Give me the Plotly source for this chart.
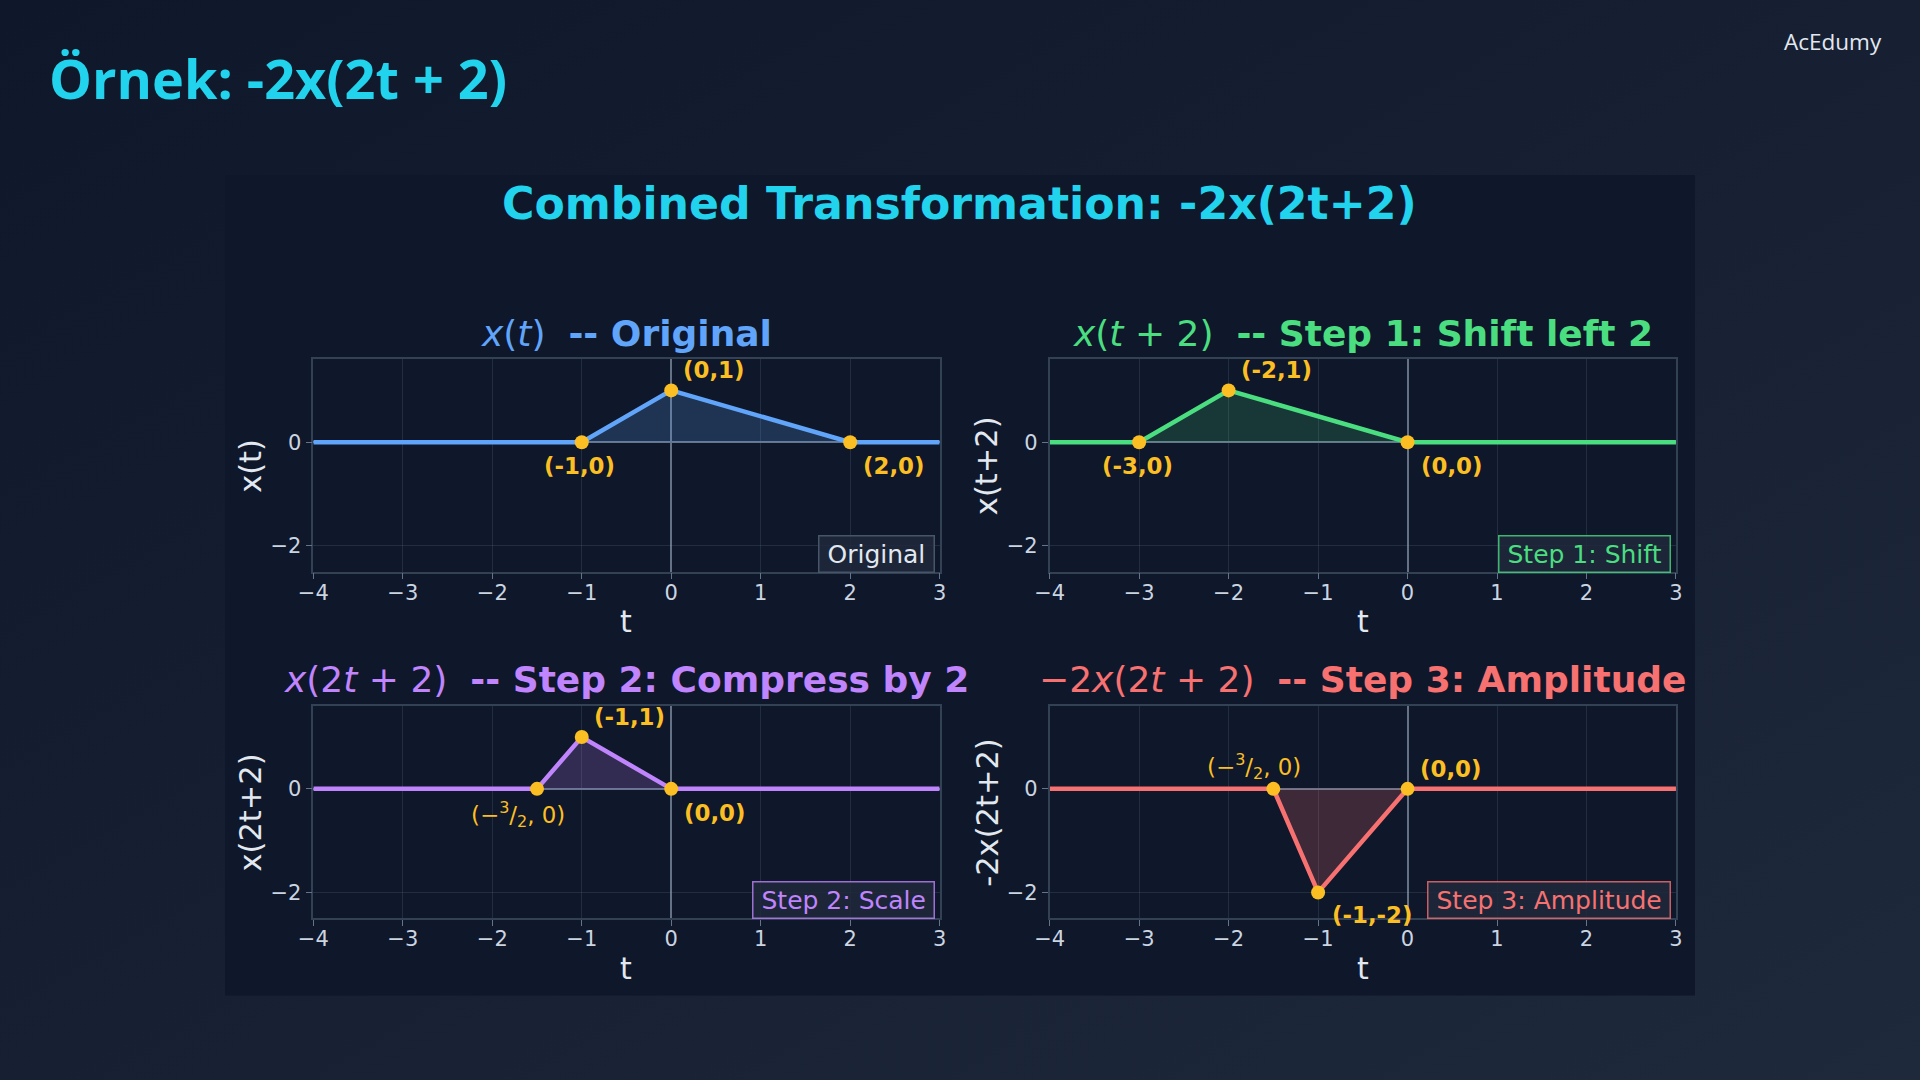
import base64
import plotly.graph_objects as go

# ---------------- data ----------------
T_RANGE = [-4, 3]
Y_RANGE = [-2.5, 1.6]
x_tick_vals = [-4, -3, -2, -1, 0, 1, 2, 3]
y_tick_vals = [-2, 0]

# x(t)
t_orig = [-4, -1, 0, 2, 3]
v_orig = [0, 0, 1, 0, 0]
key_t_orig = [-1, 0, 2]
key_v_orig = [0, 1, 0]
key_lbl_orig = ["(-1,0)", "(0,1)", "(2,0)"]

# x(t+2)
t_shift = [-4, -3, -2, 0, 3]
v_shift = [0, 0, 1, 0, 0]
key_t_shift = [-3, -2, 0]
key_v_shift = [0, 1, 0]
key_lbl_shift = ["(-3,0)", "(-2,1)", "(0,0)"]

# x(2t+2)
t_scale = [-4, -1.5, -1, 0, 3]
v_scale = [0, 0, 1, 0, 0]
key_t_scale = [-1.5, -1, 0]
key_v_scale = [0, 1, 0]
key_lbl_scale = ["(−<sup>3</sup>/<sub>2</sub>, 0)", "(-1,1)", "(0,0)"]

# -2x(2t+2)
t_amp = [-4, -1.5, -1, 0, 3]
v_amp = [0, 0, -2, 0, 0]
key_t_amp = [-1.5, -1, 0]
key_v_amp = [0, -2, 0]
key_lbl_amp = ["(−<sup>3</sup>/<sub>2</sub>, 0)", "(-1,-2)", "(0,0)"]

titles_math = ["<i>x</i>(<i>t</i>)", "<i>x</i>(<i>t</i> + 2)",
               "<i>x</i>(2<i>t</i> + 2)", "−2<i>x</i>(2<i>t</i> + 2)"]
titles_text = ["-- Original", "-- Step 1: Shift left 2",
               "-- Step 2: Compress by 2", "-- Step 3: Amplitude"]
y_labels = ["x(t)", "x(t+2)", "x(2t+2)", "-2x(2t+2)"]
legend_labels = ["Original", "Step 1: Shift", "Step 2: Scale", "Step 3: Amplitude"]

# ---------------- styles ----------------
FONT = "DejaVu Sans"
colors = ["#60a5fa", "#4ade80", "#c084fc", "#f87171"]
fills = ["rgba(96,165,250,0.20)", "rgba(74,222,128,0.17)",
         "rgba(192,132,252,0.20)", "rgba(248,113,113,0.20)"]
legend_text_colors = ["#e2e8f0", "#4ade80", "#c084fc", "#f87171"]
legend_border = ["#475569", "rgba(74,222,128,0.8)", "rgba(192,132,252,0.8)", "rgba(248,113,113,0.8)"]
MARKER = "#fbbf24"

# label placement kinds (xanchor, xshift, yshift, bold)
PLACE = {
    "ur": ("left", 10, 20, True),
    "b": ("center", -2, -24, True),
    "br": ("left", 11, -24, True),
    "fb": ("center", -19, -26, False),
    "fu": ("center", -19, 22, False),
    "dr": ("left", 12, -23, True),
}
placements = [["b", "ur", "br"], ["b", "ur", "br"], ["fb", "ur", "br"], ["fu", "dr", "ur"]]

x_domains = [[0.1632, 0.4894], [0.5467, 0.8729], [0.1632, 0.4894], [0.5467, 0.8729]]
y_domains = [[0.4707, 0.6673], [0.4707, 0.6673], [0.1497, 0.3463], [0.1497, 0.3463]]

panels = [
    (t_orig, v_orig, key_t_orig, key_v_orig, key_lbl_orig),
    (t_shift, v_shift, key_t_shift, key_v_shift, key_lbl_shift),
    (t_scale, v_scale, key_t_scale, key_v_scale, key_lbl_scale),
    (t_amp, v_amp, key_t_amp, key_v_amp, key_lbl_amp),
]

fig = go.Figure()
annotations = []
layout_axes = {}

for i, (tt, vv, kt, kv, kl) in enumerate(panels):
    n = "" if i == 0 else str(i + 1)
    xa, ya = "x" + n, "y" + n
    fig.add_trace(go.Scatter(x=tt, y=vv, mode="lines", xaxis=xa, yaxis=ya,
                             line=dict(color=colors[i], width=4.5),
                             fill="tozeroy", fillcolor=fills[i],
                             showlegend=False, hoverinfo="skip"))
    fig.add_trace(go.Scatter(x=kt, y=kv, mode="markers", xaxis=xa, yaxis=ya,
                             marker=dict(color=MARKER, size=14),
                             showlegend=False, hoverinfo="skip"))

    layout_axes["xaxis" + n] = dict(
        domain=x_domains[i], range=T_RANGE, anchor=ya, tickvals=x_tick_vals,
        showgrid=True, gridcolor="rgba(71,85,105,0.35)", gridwidth=1,
        zeroline=True, zerolinecolor="rgba(148,163,184,0.65)", zerolinewidth=1.5,
        showline=True, mirror=True, linecolor="#334155", linewidth=1.5,
        ticks="outside", ticklen=6, tickcolor="#64748b", tickwidth=1,
        ticklabelstandoff=-5, automargin=False,
        tickfont=dict(family=FONT, size=21, color="#cbd5e1"), fixedrange=True)
    layout_axes["yaxis" + n] = dict(
        domain=y_domains[i], range=Y_RANGE, anchor=xa, tickvals=y_tick_vals,
        showgrid=True, gridcolor="rgba(71,85,105,0.35)", gridwidth=1,
        zeroline=True, zerolinecolor="#64748b", zerolinewidth=1.5,
        showline=True, mirror=True, linecolor="#334155", linewidth=1.5,
        ticks="outside", ticklen=6, tickcolor="#64748b", tickwidth=1,
        automargin=False,
        tickfont=dict(family=FONT, size=21, color="#cbd5e1"), fixedrange=True)

    xd, yd = xa + " domain", ya + " domain"
    # subplot title
    annotations.append(dict(
        xref=xd, yref=yd, x=0.5, y=1, xanchor="center", yanchor="middle", yshift=26,
        text=titles_math[i] + "  <b>" + titles_text[i] + "</b>", showarrow=False,
        font=dict(family=FONT, size=36, color=colors[i])))
    # axis titles
    annotations.append(dict(
        xref=xd, yref=yd, x=0.5, y=0, xanchor="center", yanchor="middle", yshift=-50,
        text="t", showarrow=False, font=dict(family=FONT, size=30, color="#e2e8f0")))
    annotations.append(dict(
        xref=xd, yref=yd, x=0, y=0.5, xanchor="center", yanchor="middle", xshift=-63,
        text=y_labels[i], textangle=-90, showarrow=False,
        font=dict(family=FONT, size=30.5, color="#e2e8f0")))
    # legend-like box
    annotations.append(dict(
        xref=xd, yref=yd, x=1, y=0, xanchor="right", yanchor="bottom", xshift=-5, yshift=-1,
        text="\u2009" + legend_labels[i] + "\u2009", showarrow=False, bgcolor="rgba(30,41,59,0.85)",
        bordercolor=legend_border[i], borderwidth=1.5, borderpad=3,
        font=dict(family=FONT, size=25, color=legend_text_colors[i])))
    # key point labels
    for k in range(len(kt)):
        anc, xs, ys, bold = PLACE[placements[i][k]]
        txt = "<b>" + kl[k] + "</b>" if bold else kl[k]
        annotations.append(dict(
            xref=xa, yref=ya, x=kt[k], y=kv[k], xanchor=anc, yanchor="middle",
            xshift=xs, yshift=ys, text=txt, showarrow=False,
            font=dict(family=FONT, size=22.9, color=MARKER)))

# main chart title
annotations.append(dict(
    xref="paper", yref="paper", x=959 / 1920, y=1 - 203 / 1080, xanchor="center", yanchor="middle",
    text="<b>Combined Transformation: -2x(2t+2)</b>", showarrow=False,
    font=dict(family=FONT, size=44.2, color="#22d3ee")))
# slide title
annotations.append(dict(
    xref="paper", yref="paper", x=47 / 1920, y=1 - 78 / 1080, xanchor="left", yanchor="middle",
    text="<b>Örnek: -2x(2t + 2)</b>", showarrow=False,
    font=dict(family="Open Sans", size=54, color="#22d3ee")))
# brand
annotations.append(dict(
    xref="paper", yref="paper", x=1884 / 1920, y=1 - 41 / 1080, xanchor="right", yanchor="middle",
    text="AcEdumy", showarrow=False,
    font=dict(family="Open Sans", size=22.5, color="#e2e8f0")))

svg = ("<svg xmlns='http://www.w3.org/2000/svg' width='1920' height='1080'>"
       "<defs><linearGradient id='g' x1='0' y1='0' x2='1' y2='1'>"
       "<stop offset='0' stop-color='#0f172a'/><stop offset='1' stop-color='#1e293b'/>"
       "</linearGradient></defs><rect width='1920' height='1080' fill='url(#g)'/></svg>")
bg_uri = "data:image/svg+xml;base64," + base64.b64encode(svg.encode()).decode()

fig.update_layout(
    width=1920, height=1080, margin=dict(l=0, r=0, t=0, b=0, pad=0, autoexpand=False),
    paper_bgcolor="#131b2d", plot_bgcolor="rgba(0,0,0,0)",
    annotations=annotations,
    images=[dict(source=bg_uri, xref="paper", yref="paper", x=0, y=1, sizex=1, sizey=1,
                 sizing="stretch", xanchor="left", yanchor="top", layer="below")],
    shapes=[dict(type="rect", xref="paper", yref="paper",
                 x0=225 / 1920, x1=1695 / 1920, y0=1 - 995.5 / 1080, y1=1 - 175 / 1080,
                 fillcolor="#0f172a", line=dict(width=0), layer="below")],
    **layout_axes,
)

fig.write_html(
    "out.html",
    config={"displayModeBar": False, "responsive": False},
    post_script=(
        "document.documentElement.style.margin='0';"
        "document.documentElement.style.padding='0';"
        "document.documentElement.style.overflow='hidden';"
        "document.body.style.margin='0';document.body.style.padding='0';"
        "document.body.style.overflow='hidden';"
        "document.body.style.background='#131b2d';"
        "var gd=document.getElementById('{plot_id}');"
        "gd.style.position='fixed';gd.style.left='0px';gd.style.top='0px';"
    ),
)
